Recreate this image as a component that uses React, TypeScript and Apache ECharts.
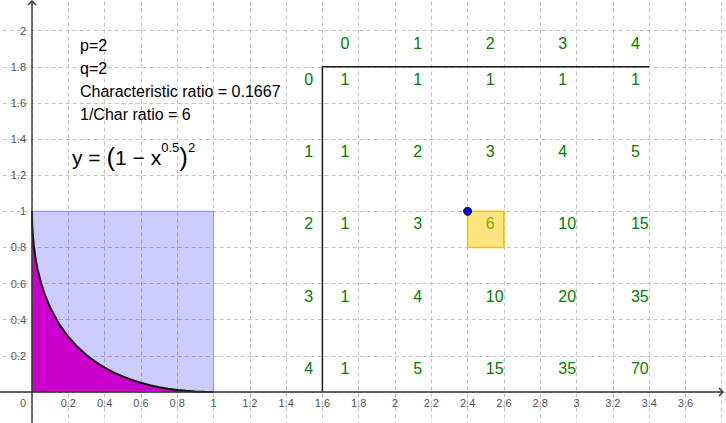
import React, { useEffect, useRef } from "react";
import * as echarts from "echarts";

// Curve y = (1 - x^0.5)^2
const curveX = [0, 0.001, 0.0025, 0.005, 0.01, 0.02, 0.03, 0.05, 0.075, 0.1, 0.15, 0.2, 0.25, 0.3, 0.35, 0.4, 0.45, 0.5, 0.55, 0.6, 0.65, 0.7, 0.75, 0.8, 0.85, 0.9, 0.95, 1.0];
const curveY = [1, 0.9377, 0.9025, 0.8636, 0.81, 0.7372, 0.6836, 0.6028, 0.5273, 0.4675, 0.3754, 0.3056, 0.25, 0.2046, 0.1668, 0.1351, 0.1084, 0.0858, 0.0668, 0.0508, 0.0376, 0.0267, 0.018, 0.0111, 0.0061, 0.0026, 0.0006, 0];

// Unit square
const squareX = [0, 1];
const squareY = [0, 1];

// Highlighted cell and point
const highlightX = [2.4, 2.6];
const highlightY = [0.8, 1.0];
const pointX = [2.4];
const pointY = [1.0];

// Pascal table
const colHeaders = ["0", "1", "2", "3", "4"];
const rowHeaders = ["0", "1", "2", "3", "4"];
const pascalRows = [
  [1, 1, 1, 1, 1],
  [1, 2, 3, 4, 5],
  [1, 3, 6, 10, 15],
  [1, 4, 10, 20, 35],
  [1, 5, 15, 35, 70],
];
const tableLineX = [3.4, 1.6, 1.6];
const tableLineY = [1.8, 1.8, 0];

// Axis tick labels
const xTickValues = [0.2, 0.4, 0.6, 0.8, 1, 1.2, 1.4, 1.6, 1.8, 2, 2.2, 2.4, 2.6, 2.8, 3, 3.2, 3.4, 3.6];
const yTickValues = [0.2, 0.4, 0.6, 0.8, 1, 1.2, 1.4, 1.6, 1.8, 2];

const infoLines = ["p=2", "q=2", "Characteristic ratio = 0.1667", "1/Char ratio = 6"];

const TABLE = { left: 1.7, top: 1.7, step: 0.4, headerY: 1.9, rowLabelX: 1.5 };

const GREEN = "#008000";
const SANS = '"Liberation Sans", Arial, sans-serif';

export default function App() {
  const ref = useRef<HTMLDivElement>(null);

  useEffect(() => {
    document.body.style.margin = "0";
    const el = ref.current!;
    const chart = echarts.init(el, null, { renderer: "svg" });

    const cells: { x: number; y: number; text: string }[] = [];
    colHeaders.forEach((t, j) => cells.push({ x: TABLE.left + j * TABLE.step, y: TABLE.headerY, text: t }));
    rowHeaders.forEach((t, i) => cells.push({ x: TABLE.rowLabelX, y: TABLE.top - i * TABLE.step, text: t }));
    pascalRows.forEach((row, i) =>
      row.forEach((v, j) => cells.push({ x: TABLE.left + j * TABLE.step, y: TABLE.top - i * TABLE.step, text: String(v) }))
    );

    const splitLine = { show: true, lineStyle: { color: "#c4c4c4", type: [4, 3], width: 1 } };

    const option: any = {
      animation: false,
      grid: { left: -4.3, right: -32, top: -5.5, bottom: -5.1, outerBoundsMode: "none", containLabel: false },
      xAxis: {
        type: "value",
        min: -0.2,
        max: 4.0,
        interval: 0.2,
        axisLine: { show: false },
        axisTick: { show: false },
        axisLabel: { show: false },
        splitLine,
      },
      yAxis: {
        type: "value",
        min: -0.2,
        max: 2.2,
        interval: 0.2,
        axisLine: { show: false },
        axisTick: { show: false },
        axisLabel: { show: false },
        splitLine,
      },
      series: [
        {
          type: "custom",
          z: 1,
          silent: true,
          data: [[squareX[0], squareY[0], squareX[1], squareY[1]]],
          renderItem: (_p: any, api: any) => {
            const a = api.coord([api.value(0), api.value(1)]);
            const b = api.coord([api.value(2), api.value(3)]);
            return {
              type: "rect",
              shape: { x: a[0], y: b[1], width: b[0] - a[0], height: a[1] - b[1] },
              style: { fill: "rgba(0,0,255,0.2)", stroke: "#9a9af5", lineWidth: 1.2 },
            };
          },
        },
        {
          type: "line",
          z: 2,
          silent: true,
          symbol: "none",
          data: curveX.map((x, i) => [x, curveY[i]]),
          lineStyle: { color: "#111", width: 2 },
          areaStyle: { color: "#cc00cc", opacity: 1 },
        },
        {
          type: "line",
          z: 3,
          silent: true,
          symbol: "none",
          data: tableLineX.map((x, i) => [x, tableLineY[i]]),
          lineStyle: { color: "#1a1a1a", width: 1.5 },
        },
        {
          type: "custom",
          z: 4,
          silent: true,
          data: cells.map((c) => [c.x, c.y]),
          renderItem: (p: any, api: any) => {
            const pt = api.coord([api.value(0), api.value(1)]);
            return {
              type: "text",
              x: pt[0],
              y: pt[1] - 5.6,
              style: {
                text: cells[p.dataIndex].text,
                fill: GREEN,
                font: `16px ${SANS}`,
                align: "left",
                verticalAlign: "middle",
                textAlign: "left",
                textVerticalAlign: "middle",
              },
            };
          },
        },
        {
          type: "custom",
          z: 5,
          silent: true,
          data: [[highlightX[0], highlightY[0], highlightX[1], highlightY[1]]],
          renderItem: (_p: any, api: any) => {
            const a = api.coord([api.value(0), api.value(1)]);
            const b = api.coord([api.value(2), api.value(3)]);
            return {
              type: "rect",
              shape: { x: a[0], y: b[1], width: b[0] - a[0], height: a[1] - b[1] },
              style: { fill: "rgba(255,204,0,0.5)", stroke: "#f2c200", lineWidth: 1.5 },
            };
          },
        },
        {
          type: "scatter",
          z: 6,
          silent: true,
          symbolSize: 8,
          data: pointX.map((x, i) => [x, pointY[i]]),
          itemStyle: { color: "#0a0ae0", borderColor: "#000", borderWidth: 1, opacity: 1 },
        },
      ],
    };
    chart.setOption(option);

    const toPx = (x: number, y: number) => chart.convertToPixel({ gridIndex: 0 } as any, [x, y]) as number[];
    const o = toPx(0, 0);
    const ox = o[0];
    const oy = o[1];
    const W = 726;
    const H = 423;
    const axisStyle = { stroke: "#333", lineWidth: 1.4, fill: "none" };
    const labelStyle = { fill: "#555", font: `11px ${SANS}` };
    const infoCenters = [45, 68, 91, 114];

    const xLabels = xTickValues.map((v) => ({
      type: "text",
      z: 50,
      x: toPx(v, 0)[0],
      y: oy + 11.3,
      style: { ...labelStyle, text: String(v), align: "center", verticalAlign: "middle" },
    }));
    const yLabels = yTickValues.map((v) => ({
      type: "text",
      z: 50,
      x: ox - 6,
      y: toPx(0, v)[1],
      style: { ...labelStyle, text: String(v), align: "right", verticalAlign: "middle" },
    }));

    chart.setOption({
      graphic: [
        { type: "line", z: 50, shape: { x1: 0, y1: oy, x2: W - 3, y2: oy }, style: axisStyle },
        { type: "polyline", z: 50, shape: { points: [[W - 7, oy - 4], [W - 3, oy], [W - 7, oy + 4]] }, style: axisStyle },
        { type: "line", z: 50, shape: { x1: ox, y1: H, x2: ox, y2: 1 }, style: axisStyle },
        { type: "polyline", z: 50, shape: { points: [[ox - 4, 5], [ox, 1], [ox + 4, 5]] }, style: axisStyle },
        {
          type: "text",
          z: 50,
          x: ox - 9,
          y: oy + 11.3,
          style: { ...labelStyle, text: "0", align: "center", verticalAlign: "middle" },
        },
        ...xLabels,
        ...yLabels,
        ...infoLines.map((t, i) => ({
          type: "text",
          z: 50,
          x: 80,
          y: infoCenters[i],
          style: { text: t, fill: "#000", font: `16px ${SANS}`, align: "left", verticalAlign: "middle" },
        })),
        {
          type: "text",
          z: 50,
          x: 72,
          y: 141,
          style: {
            text: "{m|y = }{p|(}{m|1 − x}{s|0.5}{p|)}{s|2}",
            fill: "#000",
            align: "left",
            verticalAlign: "top",
            rich: {
              m: { fontSize: 21, fontFamily: SANS, lineHeight: 32, verticalAlign: "middle", fill: "#000" },
              p: { fontSize: 26, fontFamily: SANS, lineHeight: 32, verticalAlign: "middle", fill: "#000" },
              s: { fontSize: 13, fontFamily: SANS, lineHeight: 14, verticalAlign: "top", fill: "#000" },
            },
          },
        },
      ],
    });

    return () => chart.dispose();
  }, []);

  return <div ref={ref} style={{ width: 726, height: 423 }} />;
}
